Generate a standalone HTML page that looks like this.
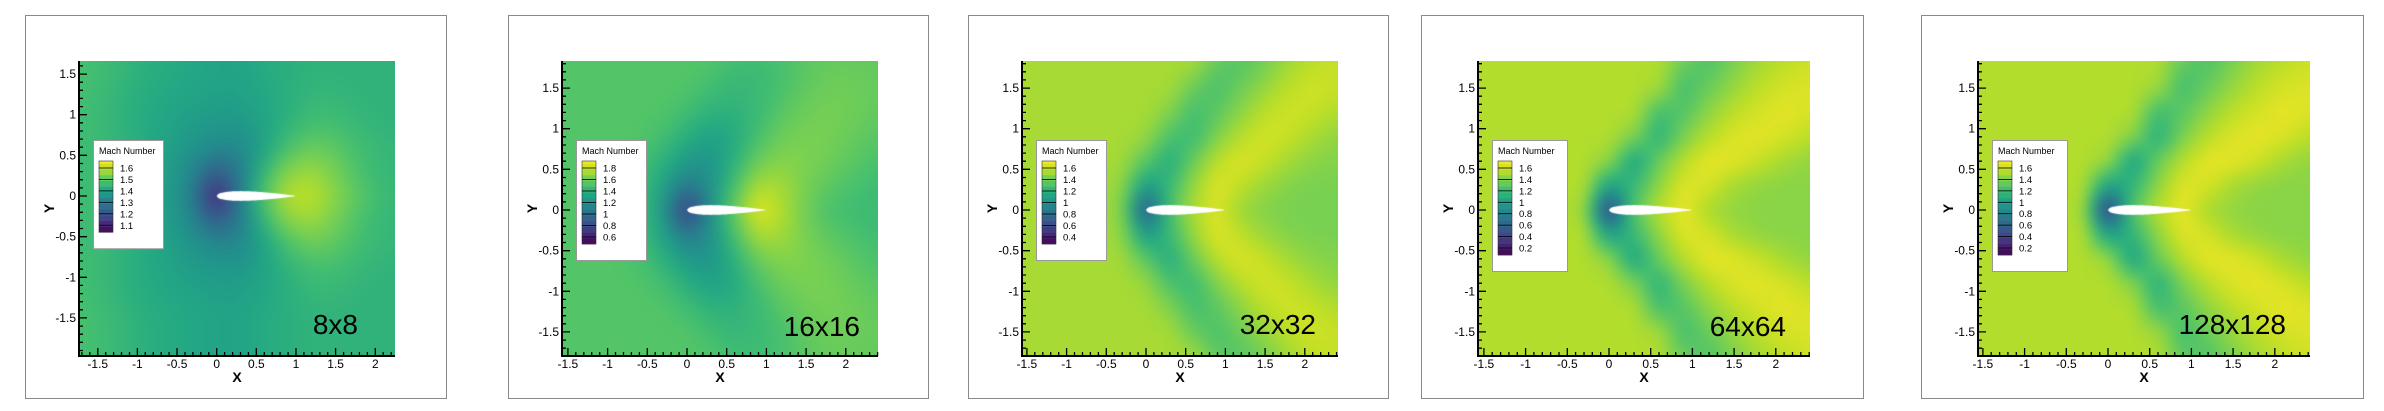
<!DOCTYPE html>
<html><head><meta charset="utf-8"><style>
html,body{margin:0;padding:0;background:#fff;width:2384px;height:411px;overflow:hidden;position:relative;font-family:"Liberation Sans",sans-serif}
canvas{position:absolute}
svg{position:absolute;left:0;top:0}
</style></head><body>
<div id="root"></div>
<script>
// ---- data ----
const gridX = [-1.8,-1.5,-1.2,-0.9,-0.6,-0.3,0,0.3,0.6,0.9,1.2,1.5,1.8,2.1,2.4];
const gridY = [0,0.3,0.6,0.9,1.2,1.5,1.8,2.1];
const panelLabels = ["8x8","16x16","32x32","64x64","128x128"];
const xTickLabels = [-1.5,-1,-0.5,0,0.5,1,1.5,2];
const yTickLabels = [-1.5,-1,-0.5,0,0.5,1,1.5];
const legend1 = [1.6,1.5,1.4,1.3,1.2,1.1];
const legend2 = [1.8,1.6,1.4,1.2,1,0.8,0.6];
const legend3 = [1.6,1.4,1.2,1,0.8,0.6,0.4];
const legend4 = [1.6,1.4,1.2,1,0.8,0.6,0.4,0.2];
const legend5 = [1.6,1.4,1.2,1,0.8,0.6,0.4,0.2];
const mach1 = [
[1.47,1.46,1.44,1.42,1.38,1.30,1.08,1.30,1.50,1.60,1.60,1.55,1.50,1.46,1.45],
[1.47,1.46,1.44,1.42,1.38,1.32,1.22,1.30,1.45,1.55,1.57,1.53,1.48,1.45,1.45],
[1.47,1.46,1.44,1.42,1.39,1.36,1.33,1.33,1.40,1.48,1.52,1.50,1.47,1.45,1.45],
[1.47,1.46,1.44,1.42,1.40,1.38,1.37,1.37,1.40,1.44,1.47,1.47,1.45,1.44,1.44],
[1.48,1.46,1.44,1.42,1.41,1.40,1.39,1.39,1.41,1.43,1.45,1.45,1.44,1.44,1.44],
[1.48,1.47,1.45,1.43,1.42,1.41,1.40,1.40,1.42,1.43,1.44,1.44,1.44,1.44,1.44],
[1.48,1.47,1.45,1.43,1.42,1.41,1.40,1.40,1.42,1.43,1.44,1.44,1.44,1.44,1.44],
[1.48,1.47,1.45,1.43,1.42,1.41,1.40,1.40,1.42,1.43,1.44,1.44,1.44,1.44,1.44]];
const mach2 = [
[1.53,1.53,1.53,1.53,1.48,1.25,0.65,1.20,1.60,1.88,1.75,1.60,1.50,1.47,1.45],
[1.53,1.53,1.53,1.53,1.48,1.30,1.05,1.20,1.50,1.75,1.72,1.62,1.55,1.50,1.47],
[1.53,1.53,1.53,1.53,1.50,1.40,1.25,1.22,1.40,1.60,1.66,1.64,1.60,1.55,1.50],
[1.53,1.53,1.53,1.53,1.53,1.48,1.38,1.30,1.35,1.50,1.60,1.63,1.62,1.58,1.54],
[1.53,1.53,1.53,1.53,1.53,1.53,1.47,1.40,1.40,1.45,1.55,1.60,1.62,1.60,1.57],
[1.53,1.53,1.53,1.53,1.53,1.53,1.53,1.47,1.43,1.45,1.50,1.57,1.60,1.60,1.58],
[1.53,1.53,1.53,1.53,1.53,1.53,1.53,1.53,1.47,1.47,1.50,1.55,1.58,1.58,1.57],
[1.53,1.53,1.53,1.53,1.53,1.53,1.53,1.53,1.53,1.50,1.52,1.55,1.56,1.56,1.56]];
const mach3 = [
[1.53,1.53,1.53,1.53,1.53,1.45,0.60,1.30,1.55,1.65,1.50,1.45,1.43,1.43,1.43],
[1.53,1.53,1.53,1.53,1.53,1.48,1.05,1.25,1.50,1.66,1.58,1.50,1.45,1.43,1.43],
[1.53,1.53,1.53,1.53,1.53,1.52,1.35,1.15,1.40,1.58,1.65,1.60,1.52,1.47,1.45],
[1.53,1.53,1.53,1.53,1.53,1.53,1.50,1.30,1.25,1.45,1.57,1.63,1.60,1.53,1.48],
[1.53,1.53,1.53,1.53,1.53,1.53,1.53,1.45,1.28,1.35,1.48,1.58,1.62,1.60,1.55],
[1.53,1.53,1.53,1.53,1.53,1.53,1.53,1.53,1.38,1.30,1.40,1.50,1.58,1.62,1.60],
[1.53,1.53,1.53,1.53,1.53,1.53,1.53,1.53,1.53,1.35,1.33,1.42,1.52,1.58,1.60],
[1.53,1.53,1.53,1.53,1.53,1.53,1.53,1.53,1.53,1.53,1.38,1.38,1.48,1.55,1.58]];
const mach4 = [
[1.53,1.53,1.53,1.53,1.53,1.48,0.35,1.30,1.55,1.68,1.50,1.45,1.43,1.43,1.43],
[1.53,1.53,1.53,1.53,1.53,1.53,1.00,1.18,1.45,1.65,1.62,1.50,1.45,1.43,1.43],
[1.53,1.53,1.53,1.53,1.53,1.53,1.45,1.02,1.35,1.55,1.67,1.65,1.58,1.50,1.45],
[1.53,1.53,1.53,1.53,1.53,1.53,1.53,1.40,1.12,1.40,1.55,1.64,1.66,1.62,1.55],
[1.53,1.53,1.53,1.53,1.53,1.53,1.53,1.53,1.22,1.28,1.45,1.56,1.62,1.66,1.63],
[1.53,1.53,1.53,1.53,1.53,1.53,1.53,1.53,1.50,1.22,1.35,1.47,1.56,1.62,1.64],
[1.53,1.53,1.53,1.53,1.53,1.53,1.53,1.53,1.53,1.33,1.26,1.40,1.50,1.56,1.60],
[1.53,1.53,1.53,1.53,1.53,1.53,1.53,1.53,1.53,1.53,1.30,1.32,1.45,1.53,1.57]];
const mach5 = [
[1.53,1.53,1.53,1.53,1.53,1.50,0.30,1.30,1.55,1.68,1.50,1.45,1.43,1.43,1.43],
[1.53,1.53,1.53,1.53,1.53,1.53,1.00,1.15,1.45,1.65,1.62,1.50,1.45,1.43,1.43],
[1.53,1.53,1.53,1.53,1.53,1.53,1.48,1.00,1.35,1.55,1.67,1.66,1.60,1.50,1.45],
[1.53,1.53,1.53,1.53,1.53,1.53,1.53,1.42,1.10,1.40,1.55,1.64,1.67,1.63,1.55],
[1.53,1.53,1.53,1.53,1.53,1.53,1.53,1.53,1.20,1.30,1.45,1.56,1.62,1.67,1.64],
[1.53,1.53,1.53,1.53,1.53,1.53,1.53,1.53,1.48,1.22,1.35,1.47,1.56,1.62,1.64],
[1.53,1.53,1.53,1.53,1.53,1.53,1.53,1.53,1.53,1.30,1.26,1.40,1.50,1.56,1.60],
[1.53,1.53,1.53,1.53,1.53,1.53,1.53,1.53,1.53,1.53,1.30,1.32,1.45,1.53,1.57]];
const panelMach = [mach1,mach2,mach3,mach4,mach5];
const panelLegend = [legend1,legend2,legend3,legend4,legend5];
const legendStep = [0.05,0.1,0.1,0.1,0.1];

// ---- layout (geometry, not data) ----
const frames = [[25,446],[508,928],[968,1388],[1421,1863],[1921,2363]];
const plots = [
 {l:79,r:395,x0:216.7,sx:79.3,y0:196,sy:81.3,bw:70,lblR:358,lblB:334,blur:9},
 {l:562,r:878,x0:687,sx:79.4,y0:210,sy:81.3,bw:70,lblR:860,lblB:336,blur:9},
 {l:1022,r:1338,x0:1146,sx:79.4,y0:210,sy:81.3,bw:70,lblR:1316,lblB:334,blur:8},
 {l:1478,r:1810,x0:1609,sx:83.4,y0:210,sy:81.3,bw:75,lblR:1786,lblB:336,blur:7},
 {l:1978,r:2310,x0:2108,sx:83.4,y0:210,sy:81.3,bw:75,lblR:2286,lblB:334,blur:7}];
const PT=61, PB=356;
const barTop=161, firstLbl=168;
const lblSpacing=[11.45,11.5,11.5,11.43,11.43];

const vir=[[68,1,84],[72,36,117],[65,68,135],[53,95,141],[42,120,142],[33,145,140],[34,168,132],[68,191,112],[122,209,81],[189,223,38],[253,231,37]];
function viridis(t){t=Math.max(0,Math.min(1,t));const f=t*10,i=Math.min(9,Math.floor(f)),u=f-i;const a=vir[i],b=vir[i+1];return [a[0]+(b[0]-a[0])*u,a[1]+(b[1]-a[1])*u,a[2]+(b[2]-a[2])*u];}
function sample(g,x,y){
  y=Math.abs(y);
  const dx=gridX[1]-gridX[0],dy=gridY[1]-gridY[0];
  let fx=(x-gridX[0])/dx, fy=(y-gridY[0])/dy;
  fx=Math.max(0,Math.min(gridX.length-1.0001,fx)); fy=Math.max(0,Math.min(gridY.length-1.0001,fy));
  const i=Math.floor(fx),j=Math.floor(fy),u=fx-i,v=fy-j;
  const a=g[j][i]*(1-u)+g[j][i+1]*u, b=g[j+1][i]*(1-u)+g[j+1][i+1]*u;
  return a*(1-v)+b*v;
}
function airfoilY(x){const t=0.12;return 5*t*(0.2969*Math.sqrt(x)-0.126*x-0.3516*x*x+0.2843*x*x*x-0.1015*x*x*x*x);}

const NS="http://www.w3.org/2000/svg";
const root=document.getElementById('root');
const svg=document.createElementNS(NS,'svg');
svg.setAttribute('width','2384');svg.setAttribute('height','411');


function el(tag,attrs,parent){const e=document.createElementNS(NS,tag);for(const k in attrs)e.setAttribute(k,attrs[k]);(parent||svg).appendChild(e);return e;}

plots.forEach((p,k)=>{
  const leg=panelLegend[k];
  const pxPerUnit=lblSpacing[k]/(leg[0]-leg[1]);
  const barBottom=firstLbl+(leg.length-1)*lblSpacing[k]+(firstLbl-barTop);
  const hi=leg[0]+(firstLbl-barTop)/pxPerUnit;
  const lo=leg[leg.length-1]-(firstLbl-barTop)/pxPerUnit;
  const fr=el('rect',{x:frames[k][0]+0.5,y:15.5,width:frames[k][1]-frames[k][0],height:383,fill:'none',stroke:'#8a8a8a','stroke-width':1});
  
  
  const w=p.r-p.l,h=PB-PT,P=30;
  const off=document.createElement('canvas');off.width=w+2*P;off.height=h+2*P;
  const octx=off.getContext('2d');const img=octx.createImageData(w+2*P,h+2*P);
  for(let py=0;py<h+2*P;py++)for(let px=0;px<w+2*P;px++){
    const X=(p.l-P+px+0.5-p.x0)/p.sx, Y=(p.y0-(PT-P+py+0.5))/p.sy;
    const m=sample(panelMach[k],X,Y);
    const c=viridis((m-lo)/(hi-lo));const o=(py*(w+2*P)+px)*4;
    img.data[o]=c[0];img.data[o+1]=c[1];img.data[o+2]=c[2];img.data[o+3]=255;}
  octx.putImageData(img,0,0);
  const cv=document.createElement('canvas');cv.width=w;cv.height=h;
  cv.style.left=p.l+'px';cv.style.top=PT+'px';
  
  
  root.appendChild(cv);
  const ctx=cv.getContext('2d');
  ctx.filter='blur('+p.blur+'px)';
  ctx.drawImage(off,-P,-P);
  ctx.filter='none';
  ctx.fillStyle='#fff';ctx.beginPath();
  for(let i=0;i<=60;i++){const x=i/60;ctx.lineTo(p.x0+x*p.sx-p.l,p.y0-airfoilY(x)*p.sy-PT);}
  for(let i=60;i>=0;i--){const x=i/60;ctx.lineTo(p.x0+x*p.sx-p.l,p.y0+airfoilY(x)*p.sy-PT);}
  ctx.closePath();ctx.fill();
  const ax=el('path',{d:`M${p.l},${PT} L${p.l},${PB} L${p.r},${PB}`,fill:'none',stroke:'#000','stroke-width':2});
  
  
  const xmin=(p.l-p.x0)/p.sx,xmax=(p.r-p.x0)/p.sx,ymax=(p.y0-PT)/p.sy,ymin=(p.y0-PB)/p.sy;
  let d='';
  for(let v=Math.ceil(xmin*10);v<=Math.floor(xmax*10);v++){const X=p.x0+v/10*p.sx;const L=(v%5===0)?8:4;d+=`M${X.toFixed(1)},${PB} L${X.toFixed(1)},${PB-L} `;}
  for(let v=Math.ceil(ymin*10);v<=Math.floor(ymax*10);v++){const Y=p.y0-v/10*p.sy;const L=(v%5===0)?8:4;d+=`M${p.l},${Y.toFixed(1)} L${p.l+L},${Y.toFixed(1)} `;}
  const tk=el('path',{d:d,stroke:'#000','stroke-width':1.3,fill:'none'});
  
  
  xTickLabels.forEach(v=>{const t=el('text',{x:p.x0+v*p.sx,y:368,'text-anchor':'middle','font-size':12,fill:'#000'});t.textContent=String(v);
    
    });
  yTickLabels.forEach(v=>{const t=el('text',{x:p.l-3,y:p.y0+v*-p.sy+4,'text-anchor':'end','font-size':12,fill:'#000'});t.textContent=String(v);
    
    });
  const xt=el('text',{x:(p.l+p.r)/2,y:382,'text-anchor':'middle','font-size':14,'font-weight':'bold'});xt.textContent='X';
  
  
  const yx=p.l-25,yy=(PT+PB)/2;
  const yt=el('text',{x:yx,y:yy,'text-anchor':'middle','font-size':14,'font-weight':'bold',transform:`rotate(-90 ${yx} ${yy})`});yt.textContent='Y';
  
  
  const bx=p.l+14;
  const g=el('g',{});
  
  
  el('rect',{x:bx+0.5,y:140.5,width:p.bw,height:barBottom-140+16,fill:'#fff',stroke:'#999','stroke-width':1},g);
  const tt=el('text',{x:bx+6,y:154,'font-size':9,fill:'#000'},g);tt.textContent='Mach Number';
  const step=legendStep[k];
  for(let v=lo;v<hi-1e-6;v+=step){
    const top=Math.min(hi,v+step);
    const y1=barTop+(hi-top)*pxPerUnit,y2=barTop+(hi-v)*pxPerUnit;
    const c=viridis(((v+top)/2-lo)/(hi-lo));
    const r=el('rect',{x:bx+6,y:y1,width:14,height:y2-y1+0.3,fill:`rgb(${c.map(Math.round).join(',')})`},g);
    
    
  }
  el('rect',{x:bx+6,y:barTop,width:14,height:barBottom-barTop,fill:'none',stroke:'#333','stroke-width':0.6},g);
  leg.forEach((v,i)=>{const Y=firstLbl+i*lblSpacing[k];
    el('line',{x1:bx+6,x2:bx+20,y1:Y,y2:Y,stroke:'#000','stroke-width':0.8},g);
    const lt=el('text',{x:bx+27,y:Y+3.5,'font-size':9.5,fill:'#000'},g);lt.textContent=String(v);
    
    });
  const pl=el('text',{x:p.lblR,y:p.lblB,'text-anchor':'end','font-size':28,fill:'#000'});pl.textContent=panelLabels[k];
  
  
});
root.appendChild(svg);
</script>
</body></html>
